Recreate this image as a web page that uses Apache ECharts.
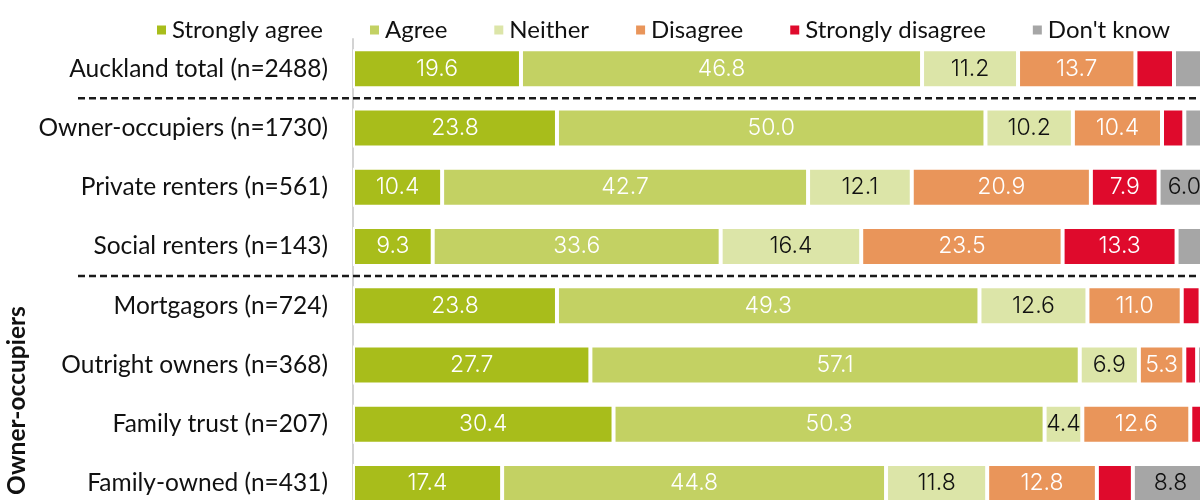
<!DOCTYPE html>
<html>
<head>
<meta charset="utf-8">
<style>
  html, body { margin: 0; padding: 0; background: #fff; }
  #chart { width: 1200px; height: 500px; }
</style>
<script src="https://cdn.jsdelivr.net/npm/echarts@6/dist/echarts.min.js"></script>
</head>
<body>
<div id="chart"></div>
<script>
// Housing tenure groups (top to bottom)
const categories = [
  'Auckland total (n=2488)',
  'Owner-occupiers (n=1730)',
  'Private renters (n=561)',
  'Social renters (n=143)',
  'Mortgagors (n=724)',
  'Outright owners (n=368)',
  'Family trust (n=207)',
  'Family-owned (n=431)'
];

// Share of respondents (%) per response
const stronglyAgree    = [19.6, 23.8, 10.4,  9.3, 23.8, 27.7, 30.4, 17.4];
const agree            = [46.8, 50.0, 42.7, 33.6, 49.3, 57.1, 50.3, 44.8];
const neither          = [11.2, 10.2, 12.1, 16.4, 12.6,  6.9,  4.4, 11.8];
const disagree         = [13.7, 10.4, 20.9, 23.5, 11.0,  5.3, 12.6, 12.8];
const stronglyDisagree = [ 4.5,  2.6,  7.9, 13.3,  2.2,  1.5,  1.6,  4.2];
const dontKnow         = [ 4.2,  3.0,  6.0,  3.9,  1.1,  1.5,  0.7,  8.8];

const responses = ['Strongly agree', 'Agree', 'Neither', 'Disagree', 'Strongly disagree', "Don't know"];
const seriesValues = [stronglyAgree, agree, neither, disagree, stronglyDisagree, dontKnow];
const colors = ['#a8bd1b', '#c3d163', '#dce5a8', '#e9955a', '#df0a2c', '#a6a6a6'];
const labelColors = ['#ffffff', '#ffffff', '#111111', '#ffffff', '#ffffff', '#111111'];

// Segments below these values (per response) carry no value label
const labelMin = [4, 4, 4, 5, 5, 5];

// Group separators sit between these category pairs
const separatorsAfter = [0, 3];
const groupLabel = 'Owner-occupiers';

const labelFont = 'Lato';
const valueFont = 'Inter';

const chart = echarts.init(document.getElementById('chart'), null, { renderer: 'canvas' });

const series = responses.map((name, i) => ({
  name: name,
  type: 'bar',
  stack: 'total',
  barWidth: 39,
  data: seriesValues[i],
  itemStyle: { color: colors[i], borderColor: '#ffffff', borderWidth: 2 },
  label: {
    show: true,
    position: 'inside',
    color: labelColors[i],
    fontFamily: valueFont,
    fontSize: 23,
    fontWeight: 300,
    formatter: p => (p.value >= labelMin[i] ? p.value.toFixed(1) : '')
  },
  emphasis: { disabled: true },
  animation: false
}));

chart.setOption({
  animation: false,
  color: colors,
  legend: {
    top: 13,
    left: 150,
    width: 1100,
    itemWidth: 11,
    itemHeight: 11,
    itemGap: 45,
    icon: 'rect',
    textStyle: { fontFamily: labelFont, fontSize: 24, color: '#111' },
    data: responses
  },
  grid: {
    left: 353,
    width: 857,
    top: 39,
    height: 474,
    outerBoundsMode: 'none',
    containLabel: false
  },
  xAxis: { type: 'value', min: 0, max: 100, show: false },
  yAxis: {
    type: 'category',
    inverse: true,
    data: categories,
    axisLine: { show: true, lineStyle: { color: '#d3d3d3', width: 2 } },
    axisTick: { show: false },
    axisLabel: { fontFamily: labelFont, fontSize: 24.5, color: '#111', margin: 25 }
  },
  series: series
});

// Dashed separators and the rotated group label, placed from the axis scale
function drawDecorations() {
  const graphics = separatorsAfter.map(idx => {
    const y1 = chart.convertToPixel({ yAxisIndex: 0 }, idx);
    const y2 = chart.convertToPixel({ yAxisIndex: 0 }, idx + 1);
    const y = (y1 + y2) / 2;
    return {
      type: 'line',
      shape: { x1: 78, y1: y, x2: 1210, y2: y },
      style: { stroke: '#1a1a1a', lineWidth: 2.5, lineDash: [7, 4] },
      z: 10
    };
  });
  const top = chart.convertToPixel({ yAxisIndex: 0 }, 4);
  const bottom = chart.convertToPixel({ yAxisIndex: 0 }, 7);
  graphics.push({
    type: 'text',
    x: 17,
    y: (top + bottom) / 2 + 6,
    rotation: Math.PI / 2,
    style: {
      text: groupLabel,
      fontFamily: labelFont,
      fontWeight: 'bold',
      fontSize: 24.5,
      fill: '#111',
      align: 'center',
      verticalAlign: 'middle'
    },
    z: 10
  });
  chart.setOption({ graphic: graphics });
}
drawDecorations();
</script>
</body>
</html>
